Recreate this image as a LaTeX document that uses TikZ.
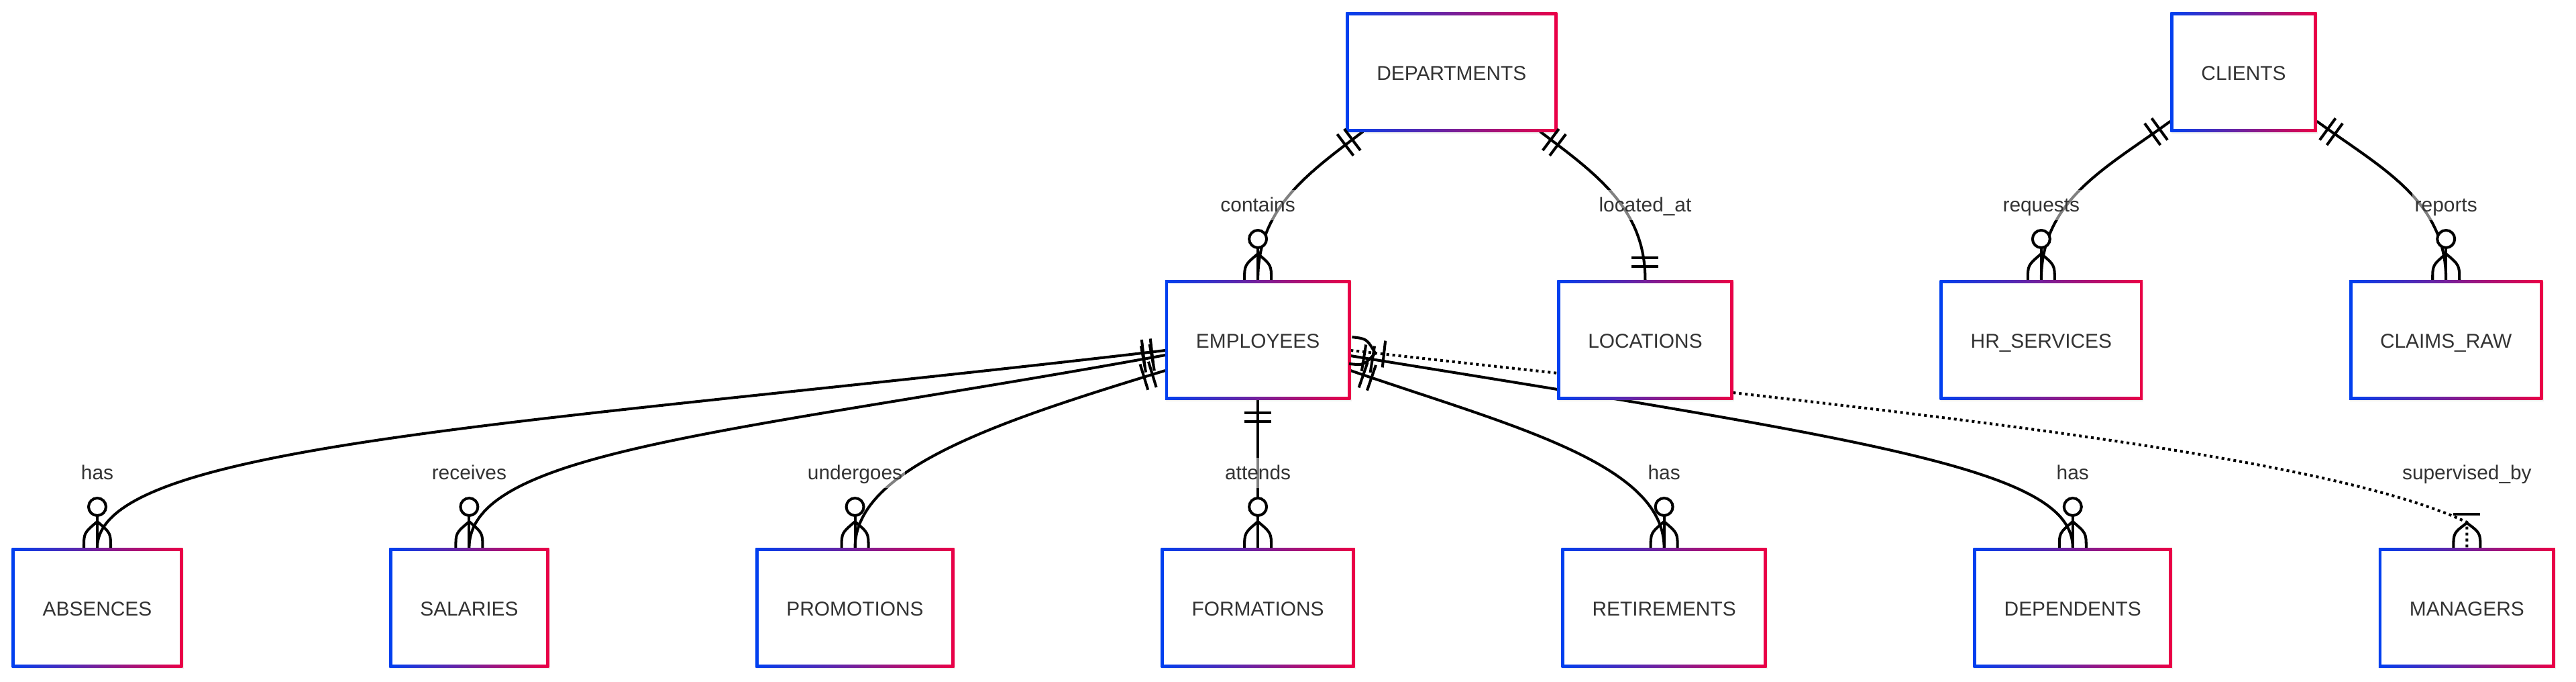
\documentclass[tikz,border=0pt]{standalone}
\usepackage{fontspec}
\setmainfont{Liberation Sans}
\usepackage{xcolor}
\usepackage{tikz}
\usetikzlibrary{positioning,calc,backgrounds,shadows}
\definecolor{erblue}{RGB}{0,64,240}
\definecolor{erred}{RGB}{235,0,70}
\definecolor{ertext}{RGB}{51,51,51}
\newcommand{\erfont}{\fontsize{8.5pt}{10pt}\selectfont}
\tikzset{
  entity/.style={
    fill=white,
    minimum height=1.78cm,
    inner xsep=0.46cm,
    outer sep=0pt,
    text height=1.38ex,
    text depth=0pt,
    text=ertext,
    font=\erfont,
    drop shadow={shadow xshift=0.4pt,shadow yshift=-0.8pt,opacity=0.12},
    path picture={
      \shade[left color=erblue,right color=erred]
        (path picture bounding box.south west) rectangle (path picture bounding box.north east);
      \fill[white]
        ([shift={(0.045,0.045)}]path picture bounding box.south west) rectangle
        ([shift={(-0.045,-0.045)}]path picture bounding box.north east);
    }
  },
  rellabel/.style={
    fill=white,
    fill opacity=0.5,
    text opacity=1,
    text=ertext,
    font=\erfont,
    inner xsep=1pt,
    inner ysep=1pt,
    text height=1.6ex,
    text depth=0.45ex,
    minimum height=0.45cm
  },
  erline/.style={line width=1.15pt,black},
  rel/.style={erline},
  reldot/.style={erline,dash pattern=on 1.15pt off 1.4pt},
  onlyone/.pic={
    \draw[erline] (-0.20,-0.2) -- (-0.20,0.2) (-0.33,-0.2) -- (-0.33,0.2);
  },
  zeromany/.pic={
    \draw[erline] (0,0.2) .. controls (-0.22,0.2) .. (-0.39,0) .. controls (-0.22,-0.2) .. (0,-0.2);
    \draw[erline] (-0.48,0) -- (0,0);
    \draw[erline,fill=white] (-0.61,0) circle (0.13);
  },
  onemany/.pic={
    \draw[erline] (0,0.2) .. controls (-0.22,0.2) .. (-0.37,0) .. controls (-0.22,-0.2) .. (0,-0.2);
    \draw[erline] (-0.50,-0.2) -- (-0.50,0.2);
  }
}

\begin{document}
\begin{tikzpicture}[node distance=2.21cm and 3.08cm]
  \useasboundingbox (0,0) rectangle (38.4,-10.15);
  % bottom row
  \node[entity] (absences) at (1.45,-9.05) {ABSENCES};
  \node[entity,right=of absences] (salaries) {SALARIES};
  \node[entity,right=of salaries] (promotions) {PROMOTIONS};
  \node[entity,right=of promotions] (formations) {FORMATIONS};
  \node[entity,right=of formations] (retirements) {RETIREMENTS};
  \node[entity,right=of retirements] (dependents) {DEPENDENTS};
  \node[entity,right=of dependents] (managers) {MANAGERS};
  % middle row
  \node[entity,above=of formations] (employees) {EMPLOYEES};
  \node[entity,right=of employees] (locations) {LOCATIONS};
  \node[entity,right=of locations] (hrservices) {HR\_SERVICES};
  \node[entity,right=of hrservices] (claims) {CLAIMS\_RAW};
  % top row
  \coordinate (deptbase) at ($(employees.north)!0.5!(locations.north)$);
  \coordinate (clientbase) at ($(hrservices.north)!0.5!(claims.north)$);
  \node[entity,above=of deptbase] (departments) {DEPARTMENTS};
  \node[entity,above=of clientbase] (clients) {CLIENTS};

  \begin{scope}[on background layer]
    \draw[rel] (departments.214) to[out=217,in=90] (employees.north);
    \draw[rel] (departments.326) to[out=-37,in=90] (locations.north);
    \draw[rel] (clients.214) to[out=216,in=90] (hrservices.north);
    \draw[rel] (clients.326) to[out=-36,in=90] (claims.north);
    \draw[rel] ([yshift=-0.16cm]employees.west) to[out=186.7,in=90,out distance=9.43cm,in distance=1.56cm] (absences.north);
    \draw[rel] ([yshift=-0.23cm]employees.west) to[out=190.3,in=90,out distance=6.47cm,in distance=1.46cm] (salaries.north);
    \draw[rel] ([yshift=-0.46cm]employees.west) to[out=197,in=90,out distance=2.5cm,in distance=1.2cm] (promotions.north);
    \draw[rel] (employees.south) -- (formations.north);
    \draw[rel] ([yshift=-0.46cm]employees.east) to[out=-19,in=90,out distance=2.5cm,in distance=1.26cm] (retirements.north);
    \draw[rel] ([yshift=-0.24cm]employees.east) to[out=-9.2,in=90,out distance=8cm,in distance=1.16cm] (dependents.north);
    \draw[reldot] ([yshift=-0.16cm]employees.east) to[out=-6.3,in=155,out distance=8.05cm,in distance=2.48cm] ([yshift=0.38cm]managers.north) -- (managers.north);
  \end{scope}

  % cardinality marks
  \pic[rotate=37] at (departments.214) {onlyone};
  \pic[rotate=-90] at (employees.north) {zeromany};
  \pic[rotate=143] at (departments.326) {onlyone};
  \pic[rotate=-90] at (locations.north) {onlyone};
  \pic[rotate=36] at (clients.214) {onlyone};
  \pic[rotate=-90] at (hrservices.north) {zeromany};
  \pic[rotate=144] at (clients.326) {onlyone};
  \pic[rotate=-90] at (claims.north) {zeromany};
  \pic[rotate=6.7] at ([yshift=-0.16cm]employees.west) {onlyone};
  \pic[rotate=-90] at (absences.north) {zeromany};
  \pic[rotate=10.3] at ([yshift=-0.23cm]employees.west) {onlyone};
  \pic[rotate=-90] at (salaries.north) {zeromany};
  \pic[rotate=17] at ([yshift=-0.46cm]employees.west) {onlyone};
  \pic[rotate=-90] at (promotions.north) {zeromany};
  \pic[rotate=90] at (employees.south) {onlyone};
  \pic[rotate=-90] at (formations.north) {zeromany};
  \pic[rotate=161] at ([yshift=-0.46cm]employees.east) {onlyone};
  \pic[rotate=-90] at (retirements.north) {zeromany};
  \pic[rotate=170.8] at ([yshift=-0.24cm]employees.east) {onlyone};
  \pic[rotate=-90] at (dependents.north) {zeromany};
  \pic[rotate=173.7] at ([yshift=-0.16cm]employees.east) {onemany};
  \pic[rotate=-90] at (managers.north) {onemany};

  % relation labels
  \node[rellabel,above=0.885cm of employees] (lcontains) {contains};
  \node[rellabel,above=0.885cm of locations] (llocated) {located\_at};
  \node[rellabel,above=0.885cm of hrservices] (lrequests) {requests};
  \node[rellabel,above=0.885cm of claims] (lreports) {reports};
  \node[rellabel,above=0.885cm of absences] (lhasabs) {has};
  \node[rellabel,above=0.885cm of salaries] (lreceives) {receives};
  \node[rellabel,above=0.885cm of promotions] (lundergoes) {undergoes};
  \node[rellabel,above=0.885cm of formations] (lattends) {attends};
  \node[rellabel,above=0.885cm of retirements] (lhasret) {has};
  \node[rellabel,above=0.885cm of dependents] (lhasdep) {has};
  \node[rellabel,above=0.885cm of managers] (lsupervised) {supervised\_by};
\end{tikzpicture}
\end{document}
